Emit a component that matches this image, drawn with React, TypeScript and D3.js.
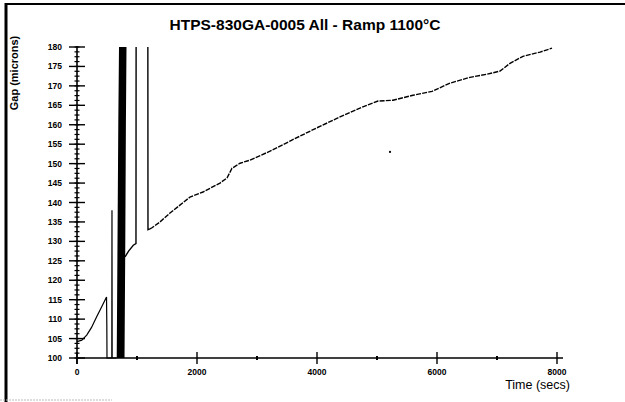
import React from "react";
import * as d3 from "d3";

// ---- data ----
const title = "HTPS-830GA-0005 All - Ramp 1100°C";
const yLabel = "Gap (microns)";
const xLabel = "Time (secs)";
const xTicks = [0, 2000, 4000, 6000, 8000];
const xMinorTicks = [1000, 3000, 5000, 7000];
const yTicks = [100, 105, 110, 115, 120, 125, 130, 135, 140, 145, 150, 155, 160, 165, 170, 175, 180];

// early heating segment, small spike
const earlyT = [0, 80, 162, 240, 328, 410, 492, 497, 500, 580, 583, 586, 660];
const earlyV = [104.2, 104.6, 105.9, 107.8, 110.6, 113.1, 115.7, 108.5, 100, 100, 138, 100, 100];

// dense oscillation band envelope (value level, start time, end time)
const bandV = [100, 130, 160, 180];
const bandT0 = [662, 675, 688, 700];
const bandT1 = [792, 805, 815, 825];

// after band, with two excursions off scale
const midT = [800, 860, 938, 983, 986, 1180, 1183, 1215];
const midV = [126, 127.5, 129, 129.4, 200, 200, 133, 133.2];

// main ramp curve
const mainT = [1215, 1250, 1383, 1550, 1883, 2100, 2383, 2500, 2583, 2717, 2883, 3217, 3550, 3983, 4383, 4717, 5017, 5267, 5600, 5917, 6217, 6550, 6833, 7050, 7217, 7433, 7717, 7917];
const mainV = [133.2, 133.5, 135, 137.3, 141.4, 142.7, 145, 146.3, 148.8, 150.1, 150.9, 153.2, 155.8, 159.1, 162, 164.3, 166.1, 166.3, 167.6, 168.6, 170.7, 172.2, 173, 173.8, 175.8, 177.6, 178.7, 179.7];

const outlierT = [5217];
const outlierV = [153];

export default function App() {
  const W = 625, H = 402;
  const x = d3.scaleLinear().domain([0, 8000]).range([77, 557]);
  const y = d3.scaleLinear().domain([100, 180]).range([358, 47]);

  const line = d3.line<[number, number]>().x(d => x(d[0])).y(d => y(d[1]));
  const zip = (a: number[], b: number[]) => a.map((t, i) => [t, b[i]] as [number, number]);

  const band = d3.area<number>()
    .y(i => y(bandV[i]))
    .x0(i => x(bandT0[i]))
    .x1(i => x(bandT1[i]));

  const yMinor = d3.range(100, 180.01, 1.25);
  const font = "'Liberation Sans', Arial, sans-serif";

  return (
    <svg width={W} height={H} style={{ position: "absolute", left: 0, top: 0, background: "#fff" }} fontFamily={font}>
      <defs>
        <clipPath id="plot">
          <rect x={60} y={y(180)} width={520} height={y(100) - y(180) + 1} />
        </clipPath>
      </defs>
      <rect width={W} height={H} fill="#fff" />
      {/* frame */}
      <line x1={6} y1={3} x2={6} y2={402} stroke="#000" strokeWidth={3} />
      <line x1={6} y1={4} x2={625} y2={4} stroke="#000" strokeWidth={2} />
      <line x1={0} y1={400} x2={112} y2={400} stroke="#bbb" strokeWidth={1} strokeDasharray="2 1" />

      <text x={305} y={30} textAnchor="middle" fontWeight="bold" fontSize={15.5} fill="#000">{title}</text>

      {/* y axis */}
      <line x1={x(0)} y1={y(180) - 1} x2={x(0)} y2={y(100) + 6} stroke="#000" strokeWidth={1.6} />
      {yMinor.map((v, i) => (
        <line key={"ym" + i} x1={x(0) - 2.5} x2={x(0) + 2.5} y1={y(v)} y2={y(v)} stroke="#000" strokeWidth={1.2} />
      ))}
      {yTicks.map(v => (
        <g key={"y" + v}>
          <line x1={x(0) - 8} x2={x(0) + 8} y1={y(v)} y2={y(v)} stroke="#000" strokeWidth={1.4} />
          <text x={62} y={y(v) + 3} textAnchor="end" fontSize={8.5} fontWeight="bold" fill="#000">{v}</text>
        </g>
      ))}
      <text transform={`translate(18,73) rotate(-90)`} textAnchor="middle" fontSize={11} fontWeight="bold" fill="#000">{yLabel}</text>

      {/* x axis */}
      <line x1={x(0)} y1={y(100)} x2={563} y2={y(100)} stroke="#000" strokeWidth={1.6} />
      {xMinorTicks.map(t => (
        <line key={"xm" + t} x1={x(t)} x2={x(t)} y1={y(100) - 2} y2={y(100) + 2} stroke="#000" strokeWidth={2} />
      ))}
      {xTicks.map(t => (
        <g key={"x" + t}>
          <line x1={x(t)} x2={x(t)} y1={y(100) - 6} y2={y(100) + 6} stroke="#000" strokeWidth={1.4} />
          <text x={x(t)} y={y(100) + 17} textAnchor="middle" fontSize={8.5} fontWeight="bold" fill="#000">{t}</text>
        </g>
      ))}
      <text x={570} y={389} textAnchor="end" fontSize={12.5} fill="#000">{xLabel}</text>

      {/* data */}
      <g clipPath="url(#plot)">
        <path d={line(zip(earlyT, earlyV)) || ""} fill="none" stroke="#000" strokeWidth={1.2} />
        <path d={band(d3.range(bandV.length)) || ""} fill="#000" />
        <path d={line(zip(midT, midV)) || ""} fill="none" stroke="#000" strokeWidth={1.4} />
        <path d={line(zip(mainT, mainV)) || ""} fill="none" stroke="#000" strokeWidth={1.4} strokeDasharray="5 1.2" />
        {outlierT.map((t, i) => (
          <circle key={"o" + i} cx={x(t)} cy={y(outlierV[i])} r={1.1} fill="#000" />
        ))}
      </g>
    </svg>
  );
}
